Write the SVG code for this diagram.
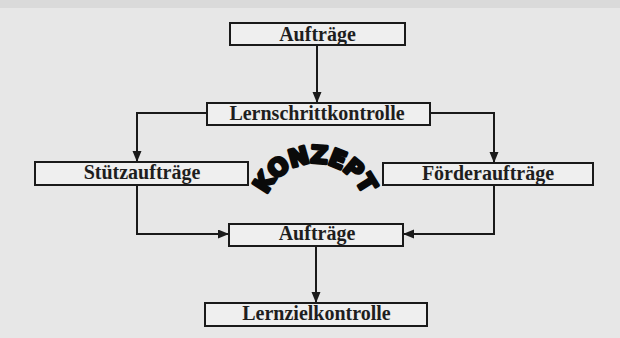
<svg xmlns="http://www.w3.org/2000/svg" width="620" height="338" viewBox="0 0 620 338">
<style>
.box{fill:#efefef;stroke:#1a1a1a;stroke-width:2}
.lbl{font-family:"Liberation Serif","Times New Roman",serif;font-weight:bold;font-size:20px;fill:#1e1e1e;text-anchor:middle}
.con{fill:none;stroke:#1a1a1a;stroke-width:2}
.logo{font-family:"DejaVu Sans",sans-serif;font-weight:bold;font-size:24px;fill:#0a0a0a;stroke:#0a0a0a;stroke-width:3;stroke-linejoin:round}
</style>
<defs>
<marker id="ah" markerUnits="userSpaceOnUse" markerWidth="12" markerHeight="10" refX="11" refY="4.5" orient="auto">
<path d="M0,0 L11,4.5 L0,9 z" fill="#1a1a1a"/>
</marker>
<path id="arc" d="M263,215 A52,52 0 0 1 367,215"/>
</defs>
<rect width="620" height="338" fill="#e7e7e7"/>
<rect width="620" height="8" fill="#dadada"/>
<g id="connectors">
<path class="con" d="M317,45 V103" marker-end="url(#ah)"/>
<path class="con" d="M207,113 H137 V162" marker-end="url(#ah)"/>
<path class="con" d="M430,113 H494 V163" marker-end="url(#ah)"/>
<path class="con" d="M137,185 V234 H229" marker-end="url(#ah)"/>
<path class="con" d="M494,185 V234 H403" marker-end="url(#ah)"/>
<path class="con" d="M316,246 V303" marker-end="url(#ah)"/>
</g>
<g id="auftraege1"><rect class="box" x="230" y="23" width="175" height="22"/><text class="lbl" x="317.5" y="41">Aufträge</text></g>
<g id="lernschrittkontrolle"><rect class="box" x="207" y="103" width="223" height="22"/><text class="lbl" x="317" y="120">Lernschrittkontrolle</text></g>
<g id="stuetzauftraege"><rect class="box" x="35" y="162" width="213" height="23"/><text class="lbl" x="142" y="179">Stützaufträge</text></g>
<g id="foerderauftraege"><rect class="box" x="383" y="163" width="210" height="22"/><text class="lbl" x="488" y="180">Förderaufträge</text></g>
<g id="auftraege2"><rect class="box" x="229" y="224" width="174" height="22"/><text class="lbl" x="317" y="240">Aufträge</text></g>
<g id="lernzielkontrolle"><rect class="box" x="205" y="303" width="222" height="23"/><text class="lbl" x="316.5" y="320">Lernzielkontrolle</text></g>
<g id="konzept"><text class="logo"><textPath href="#arc" startOffset="50%" text-anchor="middle" textLength="122" lengthAdjust="spacing">KONZEPT</textPath></text></g>
</svg>
